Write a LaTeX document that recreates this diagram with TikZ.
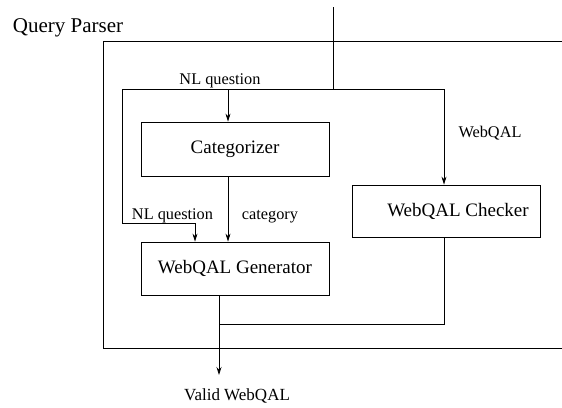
\documentclass[tikz,border=0pt]{standalone}
\usepackage{fontspec}
\setmainfont{Liberation Serif}
\usetikzlibrary{arrows.meta}
\begin{document}
\begin{tikzpicture}[x=1pt,y=-1pt,
  line width=0.8pt,
  >={Stealth[length=8pt,width=5pt]},
  procbox/.style={draw,rectangle,minimum width=188pt,inner sep=0pt,font=\fontsize{19}{22}\selectfont},
  lbl/.style={inner sep=0pt,anchor=base,font=\fontsize{16.3}{19}\selectfont}]
\useasboundingbox (0,0) rectangle (562,407);
% outer frame (open on the right)
\draw (562,41) -- (103,41) -- (103,348) -- (562,348);
\node[inner sep=0pt,anchor=base west,font=\fontsize{21}{24}\selectfont] (qp) at (12.5,32) {Query Parser};
% boxes
\node[procbox,minimum height=54pt] (cat) at (235,149) {Categorizer};
\node[procbox,minimum height=53pt] (gen) at (235,268.5) {WebQAL Generator};
\node[procbox,minimum height=52pt] (chk) at (446,211) {\hspace*{24pt}WebQAL Checker};
% coordinates
\coordinate (src) at (333,7);
\coordinate (split) at (333,89.5);
\coordinate (lc) at (122,223);
\coordinate (join) at (219,324);
\coordinate (out) at (219,375);
% connectors
\draw (src) -- (split);
\draw[->] (split) -| ([xshift=-2pt]chk.north);
\draw[->] (split) -| (lc) -| ([xshift=-40pt]gen.north);
\draw[->] ([xshift=-7pt]cat.north |- split) -- ([xshift=-7pt]cat.north);
\draw[->] ([xshift=-7pt]cat.south) -- ([xshift=-7pt]gen.north);
\draw ([xshift=-2pt]chk.south) |- (join);
\draw[->] ([xshift=-16pt]gen.south) -- (out);
% labels
\node[lbl] (l1) at (220,84) {NL question};
\node[lbl] (l2) at (490,137) {WebQAL};
\node[lbl] (l3) at (172.5,219) {NL question};
\node[lbl] (l4) at (270,219) {category};
\node[lbl,font=\fontsize{17}{20}\selectfont] (l5) at (237,400) {Valid WebQAL};
\end{tikzpicture}
\end{document}
